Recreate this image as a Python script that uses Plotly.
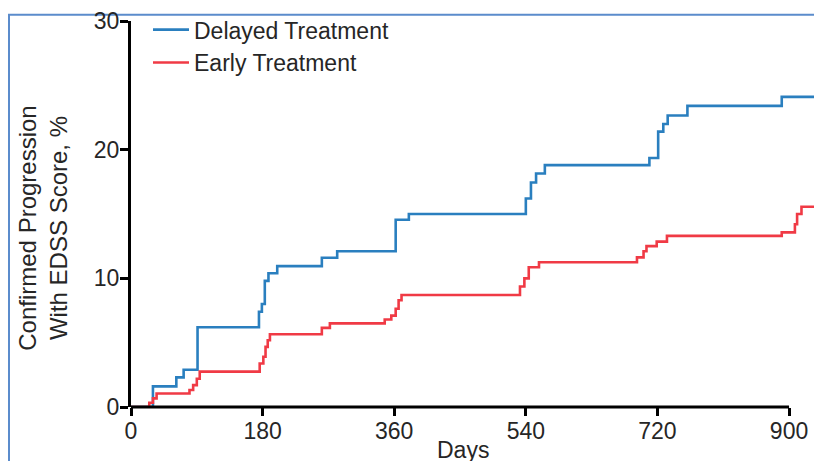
import plotly.graph_objects as go

# ---- data ----
days_delayed = [0, 30, 62, 72, 91, 175, 179, 183, 188, 200, 261, 282, 362, 380,
                540, 547, 554, 566, 709, 721, 728, 734, 761, 890, 960]
delayed = [0, 1.6, 2.3, 2.9, 6.2, 7.4, 8.0, 9.8, 10.4, 10.95, 11.6, 12.1, 14.55, 15.0,
           16.2, 17.45, 18.15, 18.8, 19.35, 21.4, 22.0, 22.65, 23.4, 24.1, 24.1]

days_early = [0, 25, 30, 35, 80, 85, 90, 94, 176, 181, 184, 187, 190, 261, 272,
              347, 356, 362, 366, 370, 532, 538, 544, 558, 692, 701, 705, 719, 733,
              890, 908, 911, 917, 960]
early = [0, 0.33, 0.67, 1.05, 1.32, 1.7, 2.2, 2.75, 3.38, 3.9, 4.67, 5.19, 5.65, 6.15, 6.5,
         6.8, 7.1, 7.64, 8.3, 8.7, 9.37, 10.0, 10.86, 11.25, 11.63, 12.1, 12.5, 12.85, 13.3,
         13.57, 14.2, 15.0, 15.56, 15.56]

x_ticks = [0, 180, 360, 540, 720, 900]
y_ticks = [0, 10, 20, 30]

series_names = ["Delayed Treatment", "Early Treatment"]
BLUE = "#2a7fbf"
RED = "#f03a45"
FONT = "Liberation Sans, Arial, sans-serif"
TXT = "#262626"

fig = go.Figure()
fig.add_trace(go.Scatter(x=days_delayed, y=delayed, mode="lines", name=series_names[0],
                         line=dict(color=BLUE, width=2.6, shape="hv")))
fig.add_trace(go.Scatter(x=days_early, y=early, mode="lines", name=series_names[1],
                         line=dict(color=RED, width=2.6, shape="hv")))

# the page body has an 8px margin; coordinates below are in the figure's own pixels
L, R, T, B = 123, 0, 11.4, 62
W, H = 822, 461
pw = W - L - R
ph = H - T - B

fig.update_layout(
    width=W, height=H,
    margin=dict(l=L, r=R, t=T, b=B, pad=0),
    paper_bgcolor="white", plot_bgcolor="white",
    font=dict(family=FONT, color=TXT, size=23),
    showlegend=True,
    legend=dict(x=17 / pw, y=1.0 + (T + 1.5) / ph, xanchor="left", yanchor="top",
                bgcolor="rgba(0,0,0,0)", font=dict(size=23, color=TXT),
                itemwidth=36, tracegroupgap=0),
    xaxis=dict(range=[0, 956], tickvals=x_ticks, ticktext=[str(v) for v in x_ticks],
               showgrid=False, zeroline=False, showline=False,
               ticks="outside", ticklen=8, tickwidth=3, tickcolor="black",
               ticklabelstandoff=-5, ticklabeloverflow="allow",
               tickfont=dict(size=23, color=TXT)),
    yaxis=dict(range=[0, 30], tickvals=y_ticks, showgrid=False, zeroline=False,
               showline=True, linewidth=3, linecolor="black",
               ticks="outside", ticklen=8, tickwidth=3, tickcolor="black",
               ticklabelstandoff=-4, ticklabeloverflow="allow",
               tickfont=dict(size=23, color=TXT)),
)

# x axis line that stops at 900 days
fig.add_shape(type="line", xref="x", yref="paper", x0=0, x1=900, y0=0, y1=0,
              line=dict(color="black", width=3), layer="above")

# blue picture frame
fig.add_shape(type="rect", xref="paper", yref="paper",
              x0=(1 - L) / pw, x1=1.05, y0=-0.3, y1=1.0 + (T - 5) / ph,
              line=dict(color="#5b8ccc", width=2), layer="below")

# axis titles
fig.add_annotation(text="Days", xref="x", yref="paper", x=454, y=-(442 - (T + ph)) / ph,
                   showarrow=False, font=dict(size=23, color=TXT),
                   xanchor="center", yanchor="middle")
fig.add_annotation(text="Confirmed Progression<br>With EDSS Score, %", xref="paper", yref="paper",
                   x=(35 - L) / pw, y=(T + ph - 220) / ph, textangle=-90, showarrow=False,
                   font=dict(size=24, color=TXT), xanchor="center", yanchor="middle")

fig.write_html("out.html")
